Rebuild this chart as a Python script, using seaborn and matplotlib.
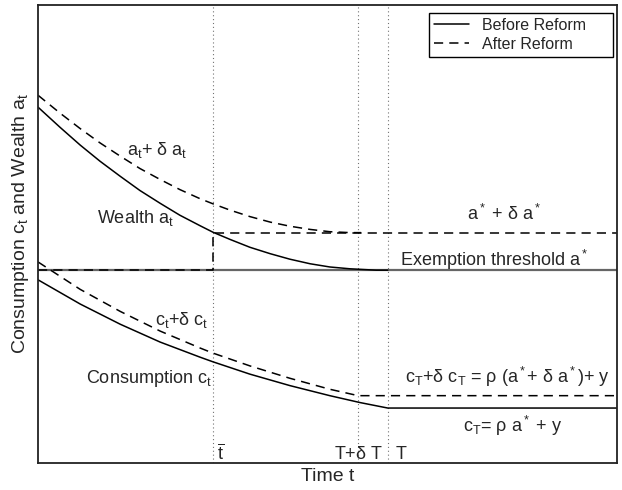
import matplotlib
matplotlib.use("Agg")
import matplotlib.pyplot as plt
from matplotlib.lines import Line2D
import seaborn as sns
import pandas as pd

# Key times (arbitrary units, axis runs 0..10)
t_bar = 3.02
t_T_dT = 5.53
t_T = 6.04
t_end = 10.0

# Key levels
threshold = 4.21      # a*
a_star_up = 5.03      # a* + delta a*
c_T = 1.20            # rho a* + y
c_T_up = 1.47         # rho (a* + delta a*) + y

# Wealth before reform
wealth_before_t = [0, 0.38, 0.73, 1.07, 1.42, 1.76, 2.11, 2.45, 2.80, 3.02, 3.32,
                   3.66, 4.01, 4.35, 4.70, 5.04, 5.39, 5.84, 6.04]
wealth_before = [7.77, 7.33, 6.94, 6.59, 6.26, 5.95, 5.67, 5.41, 5.18, 5.04, 4.88,
                 4.71, 4.57, 4.45, 4.35, 4.28, 4.24, 4.21, 4.21]

# Wealth after reform (a_t + delta a_t)
wealth_after_t = [0, 0.38, 0.73, 1.07, 1.42, 1.76, 2.11, 2.45, 2.80, 3.02, 3.32,
                  3.66, 4.01, 4.35, 4.70, 5.04, 5.39, 5.58]
wealth_after = [8.03, 7.64, 7.30, 6.99, 6.70, 6.43, 6.19, 5.97, 5.77, 5.66, 5.52,
                5.38, 5.26, 5.17, 5.10, 5.05, 5.03, 5.03]

# Consumption before reform
cons_before_t = [0, 0.73, 1.42, 2.11, 2.80, 3.02, 3.66, 4.35, 5.04, 5.56, 6.04, 10.0]
cons_before = [4.00, 3.47, 3.03, 2.64, 2.31, 2.21, 1.94, 1.69, 1.47, 1.32, 1.20, 1.20]

# Consumption after reform (c_t + delta c_t)
cons_after_t = [0, 0.73, 1.42, 2.11, 2.80, 3.02, 3.66, 4.35, 5.04, 5.53, 10.0]
cons_after = [4.39, 3.79, 3.31, 2.88, 2.51, 2.40, 2.12, 1.85, 1.61, 1.47, 1.47]

# Threshold path after reform: at a* until t_bar, then jump to a* + delta a*
step_t = [0, t_bar, t_bar, t_end]
step_a = [threshold, threshold, a_star_up, a_star_up]

sns.set_theme(style="white")
plt.rcParams['font.family'] = ['Liberation Sans', 'DejaVu Sans']
plt.rcParams['mathtext.fontset'] = 'custom'
plt.rcParams['mathtext.rm'] = 'Liberation Sans'
plt.rcParams['mathtext.it'] = 'Liberation Sans'
plt.rcParams['mathtext.default'] = 'regular'

fig = plt.figure(figsize=(6.22, 4.9), dpi=100)
ax = fig.add_axes([0.0611, 0.0551, 0.9309, 0.9347])

dash = (0, (6, 4))
lw = 1.1

# Vertical dotted markers
for tv in [t_bar, t_T_dT, t_T]:
    ax.axvline(tv, color='0.45', lw=0.8, ls=(0, (1, 2.5)))

# Exemption threshold
ax.axhline(threshold, color='0.4', lw=1.6)

def draw(x, y, style):
    df = pd.DataFrame({"t": x, "v": y})
    sns.lineplot(data=df, x="t", y="v", ax=ax, color='black', lw=lw,
                 estimator=None, sort=False, linestyle=style)

draw(wealth_before_t, wealth_before, '-')
draw(wealth_after_t, wealth_after, dash)
draw(step_t, step_a, dash)
draw(cons_before_t, cons_before, '-')
draw(cons_after_t, cons_after, dash)

ax.set_xlim(0, t_end)
ax.set_ylim(0, 10)
ax.set_xticks([])
ax.set_yticks([])

fs = 13
ax.text(1.54, 6.72, r'$a_t$+ $\delta$ $a_t$', fontsize=fs, va='baseline')
ax.text(1.02, 5.24, r'Wealth $a_t$', fontsize=fs, va='baseline')
ax.text(8.05, 5.31, r'$a^*$ + $\delta$ $a^*$', fontsize=fs, va='baseline', ha='center')
ax.text(6.25, 4.30, r'Exemption threshold $a^*$', fontsize=fs, va='baseline')
ax.text(2.02, 3.01, r'$c_t$+$\delta$ $c_t$', fontsize=fs, va='baseline')
ax.text(0.83, 1.75, r'Consumption $c_t$', fontsize=fs, va='baseline')
ax.text(9.88, 1.75, r'$c_T$+$\delta$ $c_T$ = $\rho$ ($a^*$+ $\delta$ $a^*$)+ y',
        fontsize=fs, va='baseline', ha='right')
ax.text(8.20, 0.68, r'$c_T$= $\rho$ $a^*$ + y', fontsize=fs, va='baseline', ha='center')

# time markers
ax.text(3.09, 0.09, r'$\overline{t}$', fontsize=fs, va='baseline')
ax.text(t_T_dT, 0.09, r'T+$\delta$ T', fontsize=fs, va='baseline', ha='center')
ax.text(6.17, 0.09, 'T', fontsize=fs, va='baseline')

ax.set_xlabel('Time t', fontsize=14)
ax.set_ylabel(r'Consumption $c_t$ and Wealth $a_t$', fontsize=14)
ax.xaxis.set_label_coords(0.5, -0.01)
ax.yaxis.set_label_coords(-0.012, 0.522)

for s in ax.spines.values():
    s.set_color('#222222')
    s.set_linewidth(1.3)

handles = [Line2D([], [], color='black', lw=lw, ls='-'),
           Line2D([], [], color='black', lw=lw, ls=dash)]
leg = ax.legend(handles, ['Before Reform     ', 'After Reform     '], loc='upper right',
                bbox_to_anchor=(0.993, 0.9825), borderaxespad=0, fontsize=11.5,
                fancybox=False, framealpha=1, edgecolor='black',
                handlelength=2.2, labelspacing=0.25, borderpad=0.3)
leg.get_frame().set_linewidth(1.0)

fig.savefig('out.png', dpi=100)
